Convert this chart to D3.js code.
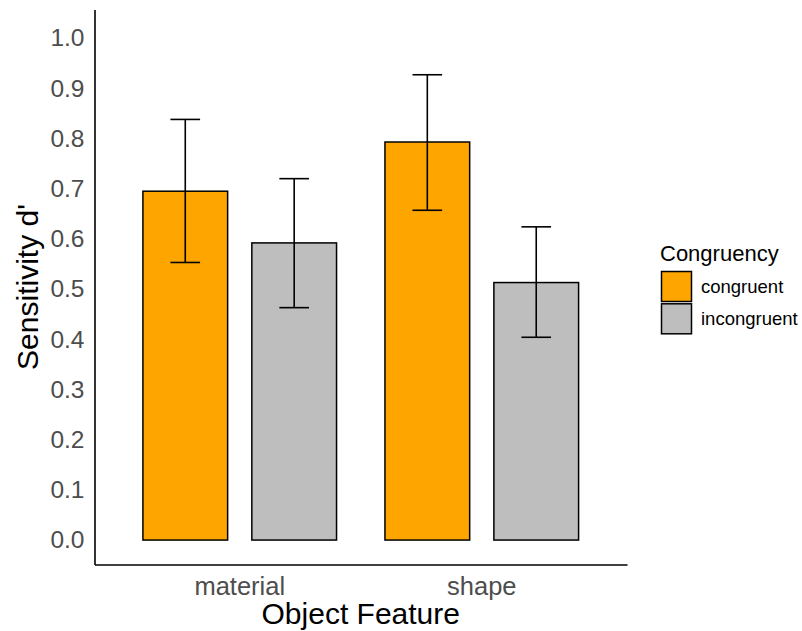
<!DOCTYPE html>
<html>
<head>
<meta charset="utf-8">
<script src="https://cdn.jsdelivr.net/npm/d3@7"></script>
<style>
  body { margin: 0; background: #fff; }
  svg text { font-family: "Liberation Sans", Arial, sans-serif; }
</style>
</head>
<body>
<div id="chart"></div>
<script>
// data
const features = ['material', 'shape'];
const groups = ['congruent', 'incongruent'];
const colours = ['#FFA500', '#BEBEBE'];
const means = [[0.695, 0.592], [0.793, 0.513]];
const upper = [[0.838, 0.720], [0.927, 0.624]];
const lower = [[0.553, 0.463], [0.657, 0.404]];
const yTicks = [0, 0.1, 0.2, 0.3, 0.4, 0.5, 0.6, 0.7, 0.8, 0.9, 1.0];

const width = 802, height = 631;
const panel = {left: 94.5, right: 627, top: 9.5, bottom: 564.5};

const svg = d3.select('#chart')
    .append('svg')
    .attr('width', width)
    .attr('height', height);

// scales
const y = d3.scaleLinear()
    .domain([-0.0487, 1.057])
    .range([panel.bottom, panel.top]);

const x = d3.scaleBand()
    .domain(features)
    .range([panel.left, panel.right])
    .paddingInner(0.2)
    .paddingOuter(0.2);

const xSub = d3.scaleBand()
    .domain(groups)
    .range([0, x.bandwidth()])
    .paddingInner(2 / 9);

const colour = d3.scaleOrdinal().domain(groups).range(colours);

// flatten into rows
const rows = [];
features.forEach((f, i) => {
    groups.forEach((g, j) => {
        rows.push({feature: f, group: g, mean: means[i][j], hi: upper[i][j], lo: lower[i][j]});
    });
});

const graph = svg.append('g');

// bars
graph.selectAll('rect.bar')
    .data(rows)
    .enter()
    .append('rect')
    .attr('class', 'bar')
    .attr('x', d => x(d.feature) + xSub(d.group))
    .attr('y', d => y(d.mean))
    .attr('width', xSub.bandwidth())
    .attr('height', d => y(0) - y(d.mean))
    .attr('fill', d => colour(d.group))
    .attr('stroke', '#000')
    .attr('stroke-width', 1.5);

// error bars
const capW = xSub.bandwidth() * 0.35;
const err = graph.selectAll('g.err')
    .data(rows)
    .enter()
    .append('g')
    .attr('class', 'err')
    .attr('transform', d => `translate(${x(d.feature) + xSub(d.group) + xSub.bandwidth() / 2}, 0)`)
    .attr('stroke', '#000')
    .attr('stroke-width', 1.6);

err.append('line')
    .attr('x1', 0).attr('x2', 0)
    .attr('y1', d => y(d.hi)).attr('y2', d => y(d.lo));
err.append('line')
    .attr('x1', -capW / 2).attr('x2', capW / 2)
    .attr('y1', d => y(d.hi)).attr('y2', d => y(d.hi));
err.append('line')
    .attr('x1', -capW / 2).attr('x2', capW / 2)
    .attr('y1', d => y(d.lo)).attr('y2', d => y(d.lo));

// axes
const yAxis = d3.axisLeft(y)
    .tickValues(yTicks)
    .tickFormat(d3.format('.1f'))
    .tickSize(0)
    .tickPadding(10);
const xAxis = d3.axisBottom(x)
    .tickSize(0)
    .tickPadding(8);

const yAxisGroup = svg.append('g')
    .attr('transform', `translate(${panel.left}, 0)`)
    .call(yAxis);
const xAxisGroup = svg.append('g')
    .attr('transform', `translate(0, ${panel.bottom})`)
    .call(xAxis);

[yAxisGroup, xAxisGroup].forEach(g => {
    g.select('.domain').attr('stroke', '#000').attr('stroke-width', 1.6);
    g.selectAll('text')
        .attr('fill', '#4D4D4D')
        .style('font-size', '24.5px');
});
xAxisGroup.selectAll('text').style('font-size', '25.5px').attr('dy', '0.9em');

// axis titles
svg.append('text')
    .attr('transform', `translate(${(panel.left + panel.right) / 2}, 624)`)
    .attr('text-anchor', 'middle')
    .attr('fill', '#000')
    .style('font-size', '30px')
    .text('Object Feature');

svg.append('text')
    .attr('transform', `translate(38, ${(panel.top + panel.bottom) / 2}) rotate(-90)`)
    .attr('text-anchor', 'middle')
    .attr('fill', '#000')
    .style('font-size', '30px')
    .text("Sensitivity d'");

// legend
const legend = svg.append('g').attr('transform', 'translate(661, 0)');
legend.append('text')
    .attr('x', -1)
    .attr('y', 261)
    .attr('fill', '#000')
    .style('font-size', '22px')
    .text('Congruency');

const keys = legend.selectAll('g.key')
    .data(groups)
    .enter()
    .append('g')
    .attr('class', 'key')
    .attr('transform', (d, i) => `translate(0, ${271.5 + i * 32.3})`);

keys.append('rect')
    .attr('x', 0.5)
    .attr('y', 0)
    .attr('width', 30)
    .attr('height', 30)
    .attr('fill', d => colour(d))
    .attr('stroke', '#000')
    .attr('stroke-width', 1.5);

keys.append('text')
    .attr('x', 40)
    .attr('y', 15)
    .attr('dy', '0.35em')
    .attr('fill', '#000')
    .style('font-size', '18.5px')
    .text(d => d);
</script>
</body>
</html>
